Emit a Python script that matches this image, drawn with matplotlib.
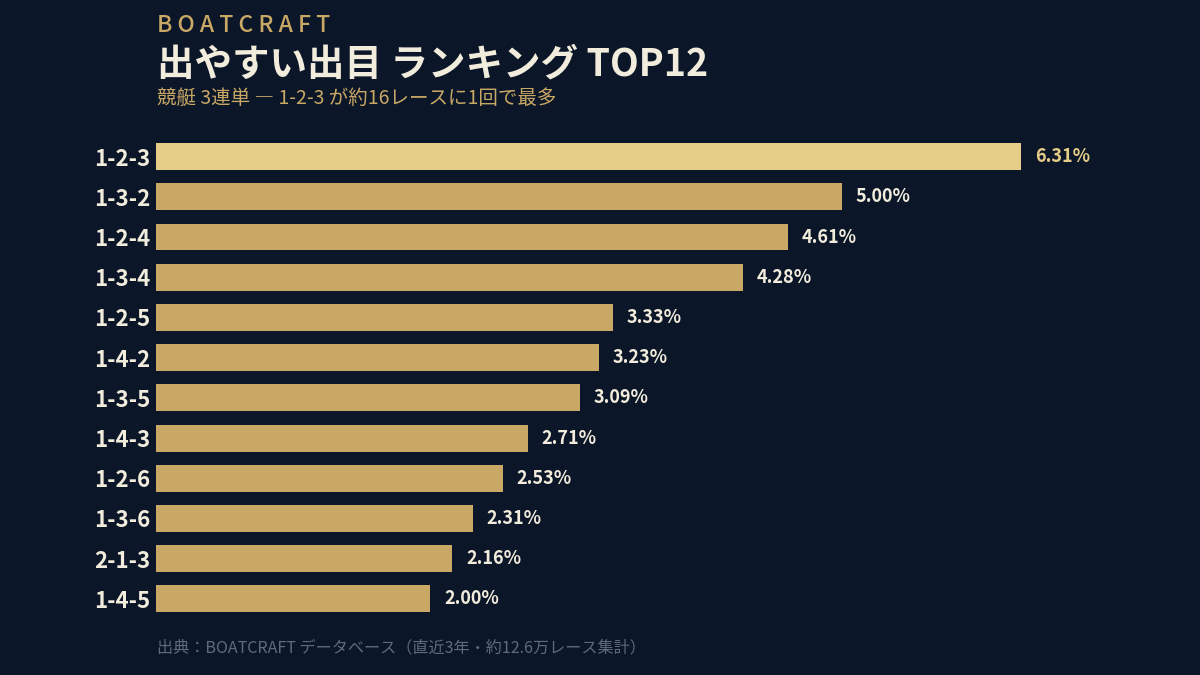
import matplotlib
matplotlib.use("Agg")
import matplotlib.pyplot as plt

plt.rcParams['font.family'] = ['Noto Sans CJK JP', 'DejaVu Sans']

# data
combos = ['1-2-3', '1-3-2', '1-2-4', '1-3-4', '1-2-5', '1-4-2',
          '1-3-5', '1-4-3', '1-2-6', '1-3-6', '2-1-3', '1-4-5']
rates = [6.31, 5.00, 4.61, 4.28, 3.33, 3.23, 3.09, 2.71, 2.53, 2.31, 2.16, 2.00]

BG = '#0b1628'
GOLD = '#c9a866'
GOLD_HI = '#e6cd87'
CREAM = '#f2ecdc'
GREY = '#5f6a7d'

fig = plt.figure(figsize=(12, 6.75), dpi=100, facecolor=BG)
ax = fig.add_axes([156 / 1200, 1 - 619 / 675, 960 / 1200, (619 - 136.5) / 675])
ax.set_facecolor(BG)

ypos = list(range(len(combos)))
colors = [GOLD_HI if i == 0 else GOLD for i in ypos]
ax.barh(ypos, rates, height=0.67, color=colors, edgecolor='none')

ax.set_xlim(0, 7.0)
ax.set_ylim(11.5, -0.5)
ax.set_yticks(ypos)
ax.set_yticklabels(combos, fontsize=16, fontweight='bold', color=CREAM)
ax.tick_params(axis='y', length=0, pad=4)
ax.set_xticks([])
for s in ax.spines.values():
    s.set_visible(False)

for i, v in enumerate(rates):
    ax.annotate(f'{v:.2f}%', (v, i), xytext=(10, 0), textcoords='offset points',
                ha='left', va='center', fontsize=13, fontweight='bold',
                color=GOLD_HI if i == 0 else CREAM)

# titles
fig.text(157 / 1200, 1 - 25 / 675, 'B O A T C R A F T', fontsize=16.5, color=GOLD,
         ha='left', va='center', fontweight='medium')
fig.text(157 / 1200, 1 - 64 / 675, '出やすい出目 ランキング TOP12', fontsize=27,
         color=CREAM, ha='left', va='center', fontweight='bold')
fig.text(157 / 1200, 1 - 98 / 675, '競艇 3連単 ― 1-2-3 が約16レースに1回で最多',
         fontsize=14, color=GOLD, ha='left', va='center')
fig.text(157 / 1200, 1 - 648 / 675,
         '出典：BOATCRAFT データベース（直近3年・約12.6万レース集計）',
         fontsize=11.6, color=GREY, ha='left', va='center')

fig.savefig('out.png', dpi=100, facecolor=BG)
